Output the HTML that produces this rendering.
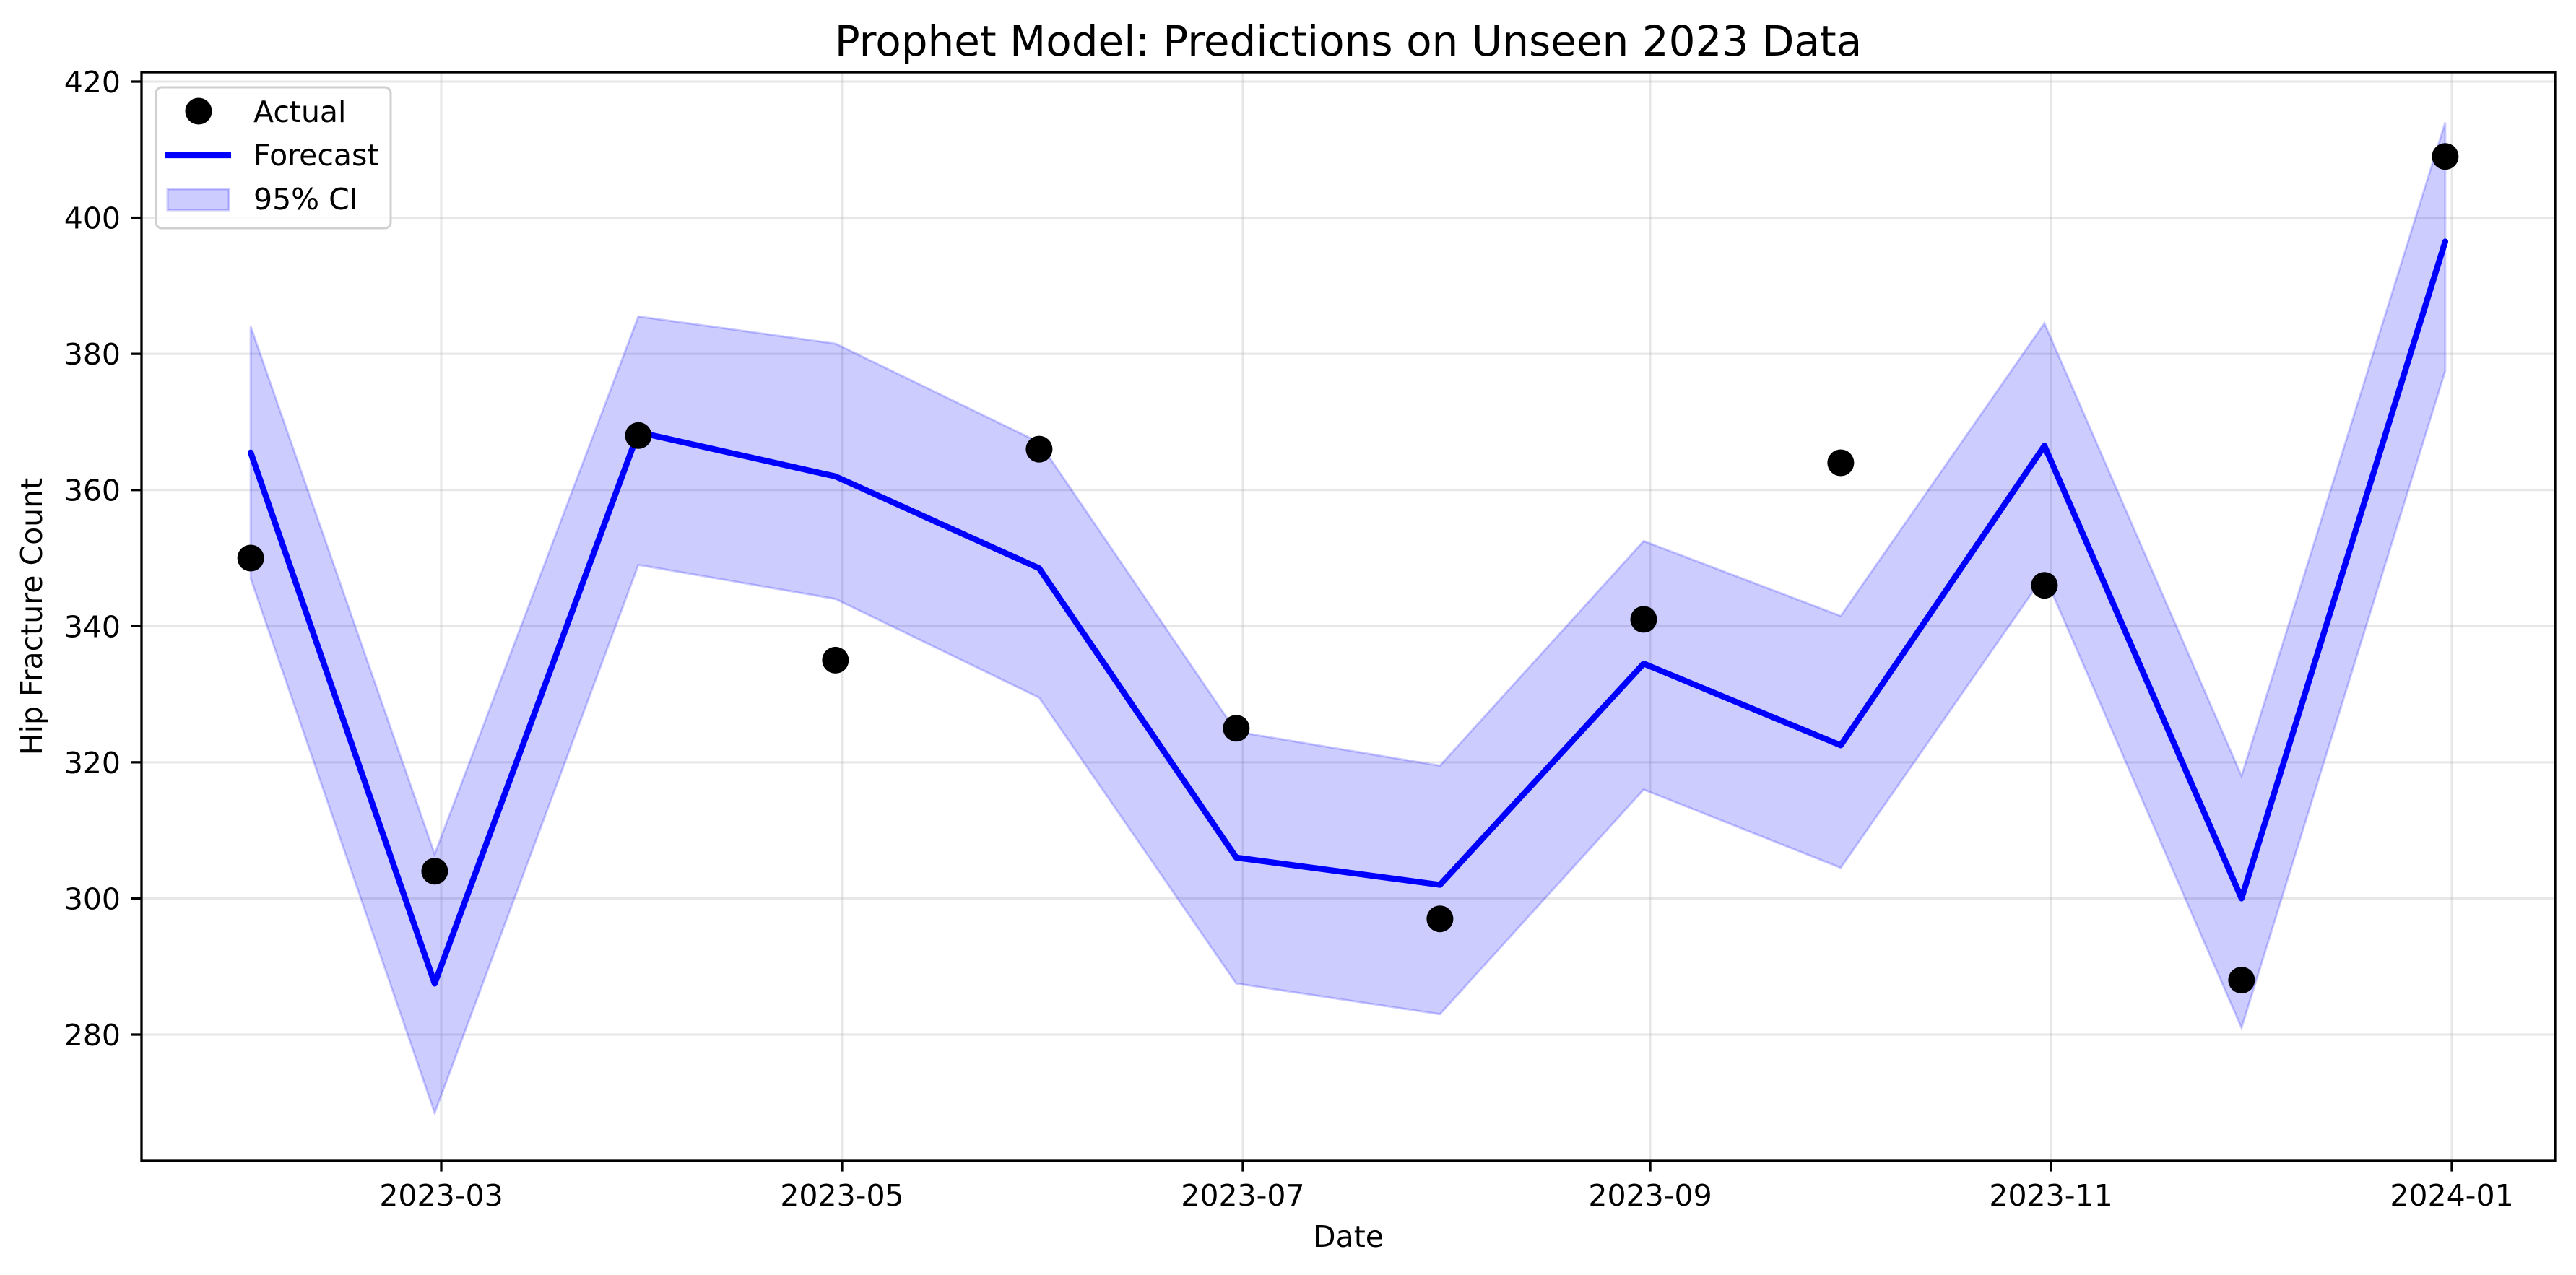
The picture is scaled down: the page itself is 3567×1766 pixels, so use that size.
<!DOCTYPE html>
<html><head><meta charset="utf-8"><style>
html,body{margin:0;padding:0;background:#fff}
svg{display:block}
text{font-family:"DejaVu Sans","Liberation Sans",sans-serif;fill:#000}
</style></head><body>
<svg id="chart" width="3567" height="1766" viewBox="0 0 3567 1766" xmlns="http://www.w3.org/2000/svg">
<text x="1867" y="77" font-size="58" text-anchor="middle">Prophet Model: Predictions on Unseen 2023 Data</text>
<g id="grid"></g>
<g id="band"></g>
<g id="lines"></g>
<g id="pts"></g>
<g id="axes"></g>
<text x="1867" y="1727" font-size="41" text-anchor="middle">Date</text>
<text transform="translate(58,854) rotate(-90)" font-size="41" text-anchor="middle">Hip Fracture Count</text>
<g>
<rect x="216" y="121" width="325" height="195" rx="8" fill="#fff" fill-opacity="0.8" stroke="#d0d0d0" stroke-width="3"/>
<circle cx="275" cy="154" r="18.5" fill="#000"/>
<text x="351" y="169" font-size="41">Actual</text>
<line x1="229" y1="215" x2="320" y2="215" stroke="#0000ff" stroke-width="8.3"/>
<text x="351" y="229" font-size="41">Forecast</text>
<rect x="232" y="262" width="85" height="29" fill="#0000ff" fill-opacity="0.2" stroke="#0000ff" stroke-opacity="0.2" stroke-width="3"/>
<text x="351" y="290" font-size="41">95% CI</text>
</g>
</svg>
<script>
const dates = ["2023-01-31","2023-02-28","2023-03-31","2023-04-30","2023-05-31","2023-06-30","2023-07-31","2023-08-31","2023-09-30","2023-10-31","2023-11-30","2023-12-31"];
const actual = [350,304,368,335,366,325,297,341,364,346,288,409];
const forecast = [365.5,287.5,368.5,362,348.5,306,302,334.5,322.5,366.5,300,396.5];
const upper = [384,306.5,385.5,381.5,367,324.5,319.5,352.5,341.5,384.5,318,414];
const lower = [347,268.5,349,344,329.5,287.5,283,316,304.5,347.5,281,377.5];
const yTicks = [280,300,320,340,360,380,400,420];
const xTicks = ["2023-03","2023-05","2023-07","2023-09","2023-11","2024-01"];

const NS="http://www.w3.org/2000/svg";
const L=196,R=3538,T=100,B=1608;
const d0=Date.UTC(2023,2,1), d1=Date.UTC(2024,0,1);
function xs(s){const p=s.split("-").map(Number);const t=Date.UTC(p[0],p[1]-1,p[2]||1);return 611+(t-d0)/(d1-d0)*(3395-611);}
function ys(v){return 113+(420-v)*(1433-113)/140;}
function mk(tag,attrs,parent){const e=document.createElementNS(NS,tag);for(const k in attrs)e.setAttribute(k,attrs[k]);parent.appendChild(e);return e;}
const grid=document.getElementById("grid"),axes=document.getElementById("axes");
yTicks.forEach(v=>{
  const y=ys(v);
  const g=mk("line",{x1:L,x2:R,y1:y,y2:y,stroke:"#b0b0b0","stroke-opacity":0.3,"stroke-width":3},grid);
  
  
  const t=mk("line",{x1:L-14.6,x2:L,y1:y,y2:y,stroke:"#000","stroke-width":3.3},axes);
  
  
  const tx=mk("text",{x:L-29,y:y+15,"font-size":41,"text-anchor":"end"},axes);
  tx.textContent=v;
  
  
});
xTicks.forEach(s=>{
  const x=xs(s);
  const g=mk("line",{x1:x,x2:x,y1:T,y2:B,stroke:"#b0b0b0","stroke-opacity":0.3,"stroke-width":3},grid);
  
  
  const t=mk("line",{x1:x,x2:x,y1:B,y2:B+14.6,stroke:"#000","stroke-width":3.3},axes);
  
  
  const tx=mk("text",{x:x,y:1670,"font-size":41,"text-anchor":"middle"},axes);
  tx.textContent=s;
  
  
});
const frame=mk("rect",{x:L,y:T,width:R-L,height:B-T,fill:"none",stroke:"#000","stroke-width":3.3},axes);


let bp=dates.map((d,i)=>xs(d)+","+ys(upper[i]));
for(let i=dates.length-1;i>=0;i--)bp.push(xs(dates[i])+","+ys(lower[i]));
const band=mk("polygon",{points:bp.join(" "),fill:"#0000ff","fill-opacity":0.2,stroke:"#0000ff","stroke-opacity":0.2,"stroke-width":3},document.getElementById("band"));


const fl=mk("polyline",{points:dates.map((d,i)=>xs(d)+","+ys(forecast[i])).join(" "),fill:"none",stroke:"#0000ff","stroke-width":8.3,"stroke-linejoin":"round","stroke-linecap":"round"},document.getElementById("lines"));


const pg=document.getElementById("pts");
dates.forEach((d,i)=>{
  const c=mk("circle",{cx:xs(d),cy:ys(actual[i]),r:18.5,fill:"#000"},pg);
  
  
});
</script>
</body></html>
